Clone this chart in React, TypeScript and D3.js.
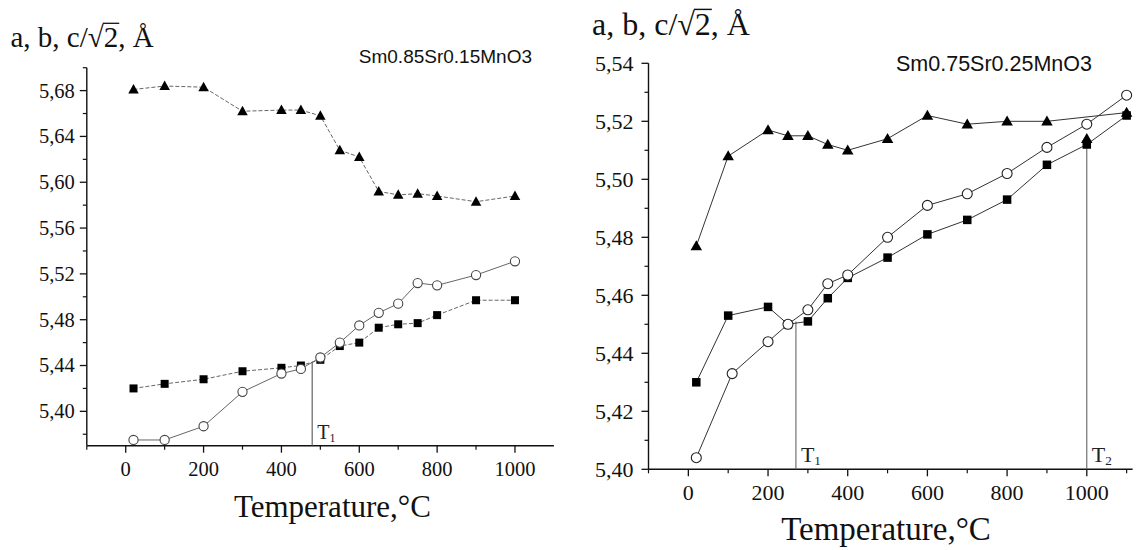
import React, { useEffect, useRef } from 'react';
import * as d3 from 'd3';

// ---------- Left panel: Sm0.85Sr0.15MnO3 ----------
const tempsLeft = [20, 100, 200, 300, 400, 450, 500, 550, 600, 650, 700, 750, 800, 900, 1000];
const triLeft = [5.681, 5.684, 5.683, 5.662, 5.663, 5.663, 5.658, 5.628, 5.622, 5.592, 5.589, 5.590, 5.588, 5.583, 5.588];
const sqLeft = [5.420, 5.424, 5.428, 5.435, 5.438, 5.440, 5.445, 5.457, 5.460, 5.473, 5.476, 5.477, 5.484, 5.497, 5.497];
const circLeft = [5.375, 5.375, 5.387, 5.417, 5.433, 5.437, 5.447, 5.460, 5.475, 5.486, 5.494, 5.512, 5.510, 5.519, 5.531];
const yTicksLeft = [5.40, 5.44, 5.48, 5.52, 5.56, 5.60, 5.64, 5.68];
const yMinorLeft = [5.38, 5.42, 5.46, 5.50, 5.54, 5.58, 5.62, 5.66, 5.70];
const xTicksLeft = [0, 200, 400, 600, 800, 1000];
const xMinorLeft = [-100, 100, 300, 500, 700, 900];
const transLeft = [{ label: '1', t: 479, top: 5.443 }];
const compoundLeft = 'Sm0.85Sr0.15MnO3';

// ---------- Right panel: Sm0.75Sr0.25MnO3 ----------
const tempsRightTri = [20, 100, 200, 250, 300, 350, 400, 500, 600, 700, 800, 900, 1000, 1100];
const triRight = [5.477, 5.508, 5.517, 5.515, 5.515, 5.512, 5.510, 5.514, 5.522, 5.519, 5.520, 5.520, 5.514, 5.523];
const unlinkedTriTemp = 1000;
const tempsRightSq = [20, 100, 200, 250, 300, 350, 400, 500, 600, 700, 800, 900, 1000, 1100];
const sqRight = [5.430, 5.453, 5.456, 5.450, 5.451, 5.459, 5.466, 5.473, 5.481, 5.486, 5.493, 5.505, 5.512, 5.522];
const tempsRightCirc = [20, 110, 200, 250, 300, 350, 400, 500, 600, 700, 800, 900, 1000, 1100];
const circRight = [5.404, 5.433, 5.444, 5.450, 5.455, 5.464, 5.467, 5.480, 5.491, 5.495, 5.502, 5.511, 5.519, 5.529];
const yTicksRight = [5.40, 5.42, 5.44, 5.46, 5.48, 5.50, 5.52, 5.54];
const yMinorRight = [5.41, 5.43, 5.45, 5.47, 5.49, 5.51, 5.53];
const xTicksRight = [0, 200, 400, 600, 800, 1000];
const xMinorRight = [-100, 100, 300, 500, 700, 900, 1100];
const transRight = [{ label: '1', t: 270, top: 5.451 }, { label: '2', t: 1000, top: 5.512 }];
const compoundRight = 'Sm0.75Sr0.25MnO3';

const yTitleText = ['a, b, c/', '√', '2', ', Å'];
const xTitleText = 'Temperature,°C';

const SERIF = "'Liberation Serif', 'Times New Roman', serif";
const SANS = "'Liberation Sans', Arial, sans-serif";

type Cfg = {
  xDomain: [number, number]; xRange: [number, number];
  yDomain: [number, number]; yRange: [number, number];
  yTicks: number[]; yMinor: number[]; xTicks: number[]; xMinor: number[];
  tickFont: number; yLabelGap: number; xLabelDy: number;
  series: { temps: number[]; vals: number[]; kind: 'tri' | 'sq' | 'circ'; linkFilter?: (t: number) => boolean }[];
  lineColor: string; lineWidth: number; dash: { tri: string; sq: string; circ: string };
  triW: number; triH: number; sqS: number; circR: number; circStroke: string;
  trans: { label: string; t: number; top: number }[]; transColor: string; transFont: number;
  title: { x: number; y: number; size: number };
  compound: { text: string; x: number; y: number; size: number };
  xTitle: { cx: number; y: number; size: number };
};

function drawPanel(root: d3.Selection<SVGGElement, unknown, null, undefined>, c: Cfg) {
  const x = d3.scaleLinear().domain(c.xDomain).range(c.xRange);
  const y = d3.scaleLinear().domain(c.yDomain).range(c.yRange);
  const g = root.append('g');
  const x0 = c.xRange[0];
  const yBottom = c.yRange[0];

  // axes lines
  g.append('line').attr('x1', x0).attr('x2', x0).attr('y1', c.yRange[0]).attr('y2', c.yRange[1])
    .attr('stroke', '#111').attr('stroke-width', 1.4);
  g.append('line').attr('x1', c.xRange[0]).attr('x2', c.xRange[1]).attr('y1', yBottom).attr('y2', yBottom)
    .attr('stroke', '#111').attr('stroke-width', 1.4);

  // y ticks
  c.yTicks.forEach(v => {
    g.append('line').attr('x1', x0 - 7).attr('x2', x0).attr('y1', y(v)).attr('y2', y(v))
      .attr('stroke', '#111').attr('stroke-width', 1.3);
    g.append('text').attr('x', x0 - c.yLabelGap).attr('y', y(v)).attr('dy', '0.34em')
      .attr('text-anchor', 'end').attr('font-family', SERIF).attr('font-size', c.tickFont)
      .attr('fill', '#111').text(v.toFixed(2).replace('.', ','));
  });
  c.yMinor.forEach(v => {
    g.append('line').attr('x1', x0 - 4).attr('x2', x0).attr('y1', y(v)).attr('y2', y(v))
      .attr('stroke', '#111').attr('stroke-width', 1.2);
  });
  // x ticks
  c.xTicks.forEach(v => {
    g.append('line').attr('x1', x(v)).attr('x2', x(v)).attr('y1', yBottom).attr('y2', yBottom + 7)
      .attr('stroke', '#111').attr('stroke-width', 1.3);
    g.append('text').attr('x', x(v)).attr('y', yBottom + c.xLabelDy)
      .attr('text-anchor', 'middle').attr('font-family', SERIF).attr('font-size', c.tickFont)
      .attr('fill', '#111').text(String(v));
  });
  c.xMinor.forEach(v => {
    g.append('line').attr('x1', x(v)).attr('x2', x(v)).attr('y1', yBottom).attr('y2', yBottom + 4)
      .attr('stroke', '#111').attr('stroke-width', 1.2);
  });

  // transition lines
  c.trans.forEach(tr => {
    g.append('line').attr('x1', x(tr.t)).attr('x2', x(tr.t)).attr('y1', yBottom).attr('y2', y(tr.top))
      .attr('stroke', c.transColor).attr('stroke-width', 1.1);
    const t = g.append('text').attr('x', x(tr.t) + 5).attr('y', yBottom - 7)
      .attr('font-family', SERIF).attr('font-size', c.transFont).attr('fill', '#222');
    t.append('tspan').text('T');
    t.append('tspan').attr('font-size', c.transFont * 0.6).attr('dy', 3).text(tr.label);
  });

  // series lines
  const line = d3.line<[number, number]>().x(d => x(d[0])).y(d => y(d[1]));
  c.series.forEach(s => {
    const pts: [number, number][] = s.temps.map((t, i) => [t, s.vals[i]] as [number, number])
      .filter(p => (s.linkFilter ? s.linkFilter(p[0]) : true));
    g.append('path').attr('d', line(pts) || '').attr('fill', 'none')
      .attr('stroke', c.lineColor).attr('stroke-width', c.lineWidth)
      .attr('stroke-dasharray', c.dash[s.kind]);
  });
  // markers: squares, circles, triangles
  const order: ('sq' | 'circ' | 'tri')[] = ['sq', 'circ', 'tri'];
  order.forEach(kind => {
    c.series.filter(s => s.kind === kind).forEach(s => {
      s.temps.forEach((t, i) => {
        const px = x(t), py = y(s.vals[i]);
        if (kind === 'sq') {
          g.append('rect').attr('x', px - c.sqS / 2).attr('y', py - c.sqS / 2)
            .attr('width', c.sqS).attr('height', c.sqS).attr('fill', '#000');
        } else if (kind === 'circ') {
          g.append('circle').attr('cx', px).attr('cy', py).attr('r', c.circR)
            .attr('fill', '#fff').attr('stroke', c.circStroke).attr('stroke-width', 1.1);
        } else {
          const w = c.triW / 2, h = c.triH;
          g.append('path')
            .attr('d', `M${px - w},${py + h * 0.42}L${px + w},${py + h * 0.42}L${px},${py - h * 0.58}Z`)
            .attr('fill', '#000');
        }
      });
    });
  });

  // y title with radical
  const tt = g.append('text').attr('x', c.title.x).attr('y', c.title.y)
    .attr('font-family', SERIF).attr('font-size', c.title.size).attr('fill', '#111');
  yTitleText.forEach(s => tt.append('tspan').text(s));
  const node = tt.node() as SVGTextElement;
  const full = yTitleText.join('');
  const i2 = full.indexOf('2');
  const iR = full.indexOf('√');
  try {
    const sR = node.getEndPositionOfChar(iR);
    const e2 = node.getEndPositionOfChar(i2);
    const topY = c.title.y - c.title.size * 0.80;
    g.append('line').attr('x1', sR.x - 1).attr('x2', e2.x + 1).attr('y1', topY).attr('y2', topY)
      .attr('stroke', '#111').attr('stroke-width', Math.max(1, c.title.size * 0.045));
  } catch (e) { /* ignore */ }

  // compound label
  g.append('text').attr('x', c.compound.x).attr('y', c.compound.y)
    .attr('font-family', SANS).attr('font-size', c.compound.size).attr('fill', '#111')
    .text(c.compound.text);

  // x title
  g.append('text').attr('x', c.xTitle.cx).attr('y', c.xTitle.y).attr('text-anchor', 'middle')
    .attr('font-family', SERIF).attr('font-size', c.xTitle.size).attr('fill', '#111')
    .text(xTitleText);
}

export default function App() {
  const ref = useRef<SVGSVGElement>(null);
  useEffect(() => {
    const svg = d3.select(ref.current);
    svg.selectAll('*').remove();
    const root = svg.append('g') as d3.Selection<SVGGElement, unknown, null, undefined>;

    drawPanel(root, {
      xDomain: [-100, 1100], xRange: [86.8, 553.9],
      yDomain: [5.37, 5.70], yRange: [445.7, 67.7],
      yTicks: yTicksLeft, yMinor: yMinorLeft, xTicks: xTicksLeft, xMinor: xMinorLeft,
      tickFont: 20.5, yLabelGap: 12, xLabelDy: 30.5,
      series: [
        { temps: tempsLeft, vals: triLeft, kind: 'tri' },
        { temps: tempsLeft, vals: sqLeft, kind: 'sq' },
        { temps: tempsLeft, vals: circLeft, kind: 'circ' },
      ],
      lineColor: '#555', lineWidth: 0.9, dash: { tri: '4,2', sq: '4,2', circ: '' },
      triW: 10.5, triH: 9.5, sqS: 8, circR: 4.6, circStroke: '#444',
      trans: transLeft, transColor: '#555', transFont: 20,
      title: { x: 10.5, y: 46.5, size: 29 },
      compound: { text: compoundLeft, x: 358.8, y: 63.3, size: 19 },
      xTitle: { cx: 332.4, y: 516.5, size: 31 },
    });

    drawPanel(root, {
      xDomain: [-100, 1115], xRange: [648.5, 1132.6],
      yDomain: [5.40, 5.54], yRange: [469.3, 63.3],
      yTicks: yTicksRight, yMinor: yMinorRight, xTicks: xTicksRight, xMinor: xMinorRight,
      tickFont: 22, yLabelGap: 15, xLabelDy: 31,
      series: [
        { temps: tempsRightTri, vals: triRight, kind: 'tri', linkFilter: t => t !== unlinkedTriTemp },
        { temps: tempsRightSq, vals: sqRight, kind: 'sq' },
        { temps: tempsRightCirc, vals: circRight, kind: 'circ' },
      ],
      lineColor: '#333', lineWidth: 1, dash: { tri: '', sq: '', circ: '' },
      triW: 11.5, triH: 10, sqS: 8.5, circR: 5, circStroke: '#222',
      trans: transRight, transColor: '#666', transFont: 22,
      title: { x: 592, y: 35, size: 32 },
      compound: { text: compoundRight, x: 896, y: 71, size: 21.5 },
      xTitle: { cx: 886, y: 540, size: 33 },
    });
  }, []);

  return (
    <div style={{ position: 'absolute', left: 0, top: 0, width: 1137, height: 550, background: '#fff' }}>
      <svg ref={ref} width={1137} height={550} style={{ display: 'block' }} />
    </div>
  );
}
